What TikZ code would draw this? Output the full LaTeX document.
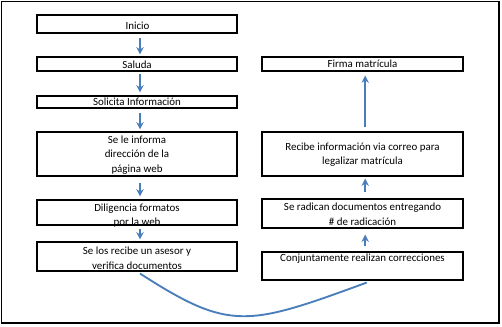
\documentclass[tikz,border=0pt]{standalone}
\usepackage{fontspec}
\setmainfont{Carlito}
\usetikzlibrary{arrows.meta}
\definecolor{arrblue}{RGB}{74,126,187}
\tikzset{
  boxshape/.style={draw=black, line width=0.8pt, inner sep=0pt},
  lbox/.style={boxshape, minimum width=150pt},
  rbox/.style={boxshape, minimum width=150.75pt},
  txt/.style={inner sep=0pt, align=center, font=\fontsize{8.2pt}{11pt}\selectfont},
  arr/.style={draw=arrblue, line width=1.4pt, -{Stealth[length=5.5pt,width=5.5pt,inset=1.8pt]}},
  curv/.style={draw=arrblue, line width=1.4pt}
}
\begin{document}
\begin{tikzpicture}[x=0.75pt,y=-0.75pt]
\useasboundingbox (0,0) rectangle (502,327);
\draw[black, line width=0.9pt] (1.5,1.5) rectangle (499,323);
% left column boxes
\node[lbox, minimum height=13.5pt] (inicio) at (137,24) {};
\node[lbox, minimum height=10.5pt] (saluda) at (137,64) {};
\node[lbox, minimum height=9pt] (solicita) at (137,102) {};
\node[lbox, minimum height=33pt] (informa) at (137,154) {};
\node[lbox, minimum height=18.75pt] (diligencia) at (137,212.5) {};
\node[lbox, minimum height=21.75pt] (selos) at (137,256.5) {};
% right column boxes
\node[rbox, minimum height=10.5pt] (firma) at (362.5,64) {};
\node[rbox, minimum height=33pt] (recibe) at (362.5,154) {};
\node[rbox, minimum height=21.75pt] (radican) at (362.5,213.5) {};
\node[rbox, minimum height=21pt] (conj) at (362.5,266) {};
% texts
\node[txt] (t-inicio) at (137.5,25.5) {Inicio};
\node[txt] (t-saluda) at (137,64.5) {Saluda};
\node[txt] (t-solicita) at (137,102) {Solicita Información};
\node[txt] (t-informa) at (137,155) {Se le informa\\ dirección de la\\ página web};
\node[txt] (t-diligencia) at (137,215.5) {Diligencia formatos\\ por la web};
\node[txt] (t-selos) at (137,258.5) {Se los recibe un asesor y\\ verifica documentos};
\node[txt] (t-firma) at (362.5,64) {Firma matrícula};
\node[txt] (t-recibe) at (362.5,154.5) {Recibe información via correo para\\ legalizar matrícula};
\node[txt] (t-radican) at (362.5,214.5) {Se radican documentos entregando\\ \# de radicación};
\node[txt] (t-conj) at (362.5,259) {Conjuntamente realizan correcciones};
% arrows left
\draw[arr, shorten <=3.5pt, shorten >=1.5pt] ([xshift=2.25pt]inicio.south) -- ([xshift=2.25pt]saluda.north);
\draw[arr, shorten <=1.5pt, shorten >=2.25pt] ([xshift=2.25pt]saluda.south) -- ([xshift=2.25pt]solicita.north);
\draw[arr, shorten <=3.5pt, shorten >=1.5pt] ([xshift=2.25pt]solicita.south) -- ([xshift=2.25pt]informa.north);
\draw[arr, shorten <=4.5pt, shorten >=2.25pt] ([xshift=2.25pt]informa.south) -- ([xshift=2.25pt]diligencia.north);
\draw[arr, shorten <=2.25pt, shorten >=1.5pt] ([xshift=2.25pt]diligencia.south) -- ([xshift=2.25pt]selos.north);
% arrows right
\draw[arr, shorten <=3.75pt, shorten >=4.5pt] ([xshift=2pt]conj.north) -- ([xshift=2pt]radican.south);
\draw[arr, shorten <=4.5pt, shorten >=1.5pt] ([xshift=2pt]radican.north) -- ([xshift=2pt]recibe.south);
\draw[arr, shorten <=3pt, shorten >=3pt] ([xshift=2pt]recibe.north) -- ([xshift=2pt]firma.south);
% curve
\draw[curv] ([xshift=2.25pt,yshift=-1.5pt]selos.south) .. controls (230,331.5) and (247,326.4) .. ([xshift=3.25pt,yshift=-1.5pt]conj.south);
\end{tikzpicture}
\end{document}
